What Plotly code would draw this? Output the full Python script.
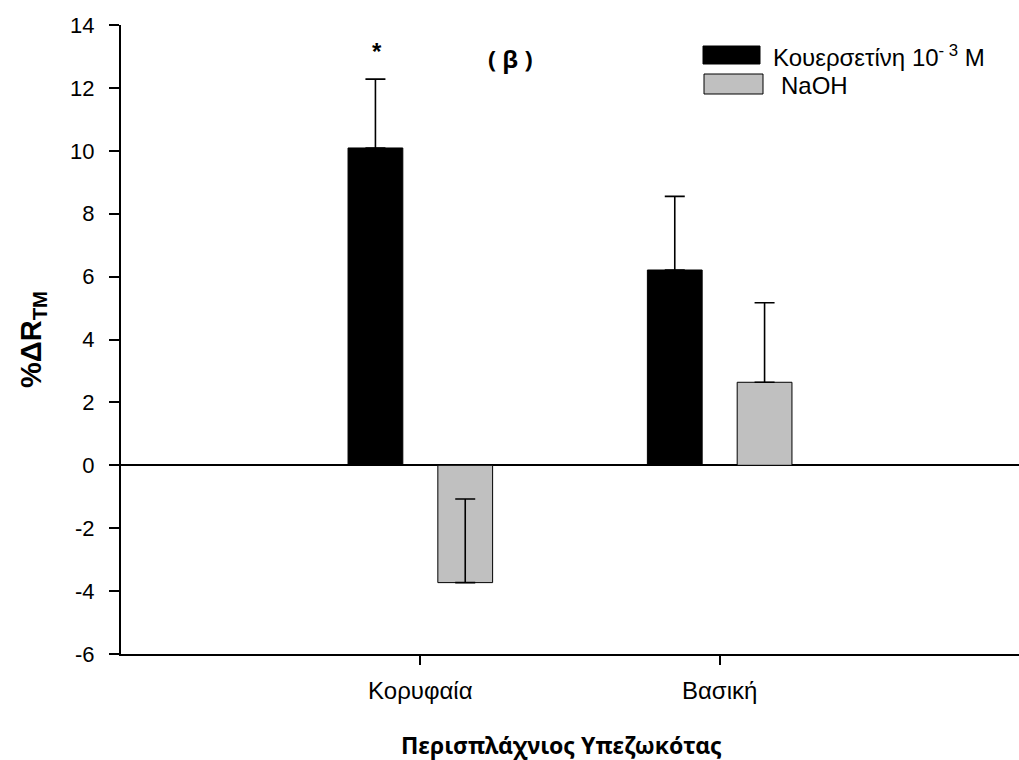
import plotly.graph_objects as go

# Data
categories = ["Κορυφαία", "Βασική"]
cat_pos = [1, 2]
quercetin = [10.09, 6.21]
quercetin_err = [2.19, 2.34]
naoh = [-3.73, 2.64]
naoh_err = [2.66, 2.53]

series_names = ["Κουερσετίνη 10<sup>- 3</sup> M", "NaOH"]
y_ticks = list(range(-6, 15, 2))
y_tick_text = [str(v) for v in y_ticks]

W, H = 1019, 760
L, R, T, B = 121, 0, 25, 106
PW, PH = W - L - R, H - T - B

def px_x(px):
    return (px - L) / PW

def px_y(py):
    return (H - B - py) / PH

bar_w = 0.183
sep = 0.15
err_style = dict(type="data", symmetric=False, color="black", thickness=1.6, width=10)

fig = go.Figure()
fig.add_trace(go.Bar(
    x=cat_pos, y=quercetin, width=bar_w, offset=-sep - bar_w / 2,
    marker=dict(color="black", line=dict(color="black", width=1)),
    error_y=dict(array=quercetin_err, arrayminus=[0, 0], **err_style),
    name="Κουερσετίνη 10-3 M", showlegend=False,
))
fig.add_trace(go.Bar(
    x=cat_pos, y=naoh, width=bar_w, offset=sep - bar_w / 2,
    marker=dict(color="#c0c0c0", line=dict(color="black", width=1)),
    error_y=dict(array=naoh_err, arrayminus=[0, 0], **err_style),
    name="NaOH", showlegend=False,
))

sans = "Liberation Sans, Arial, sans-serif"

fig.update_layout(
    width=W, height=H,
    margin=dict(l=L, r=R, t=T, b=B, pad=0),
    paper_bgcolor="white", plot_bgcolor="white",
    barmode="overlay",
    xaxis=dict(
        range=[0, 3], tickvals=cat_pos, ticktext=categories,
        showgrid=False, zeroline=False,
        showline=True, linecolor="black", linewidth=2,
        ticks="outside", ticklen=9, tickwidth=1.5, tickcolor="black",
        tickfont=dict(family=sans, size=24, color="black"),
        ticklabelstandoff=5,
    ),
    yaxis=dict(
        range=[-6, 14], tickvals=y_ticks, ticktext=y_tick_text,
        showgrid=False,
        zeroline=True, zerolinecolor="black", zerolinewidth=2,
        showline=True, linecolor="black", linewidth=2,
        ticks="outside", ticklen=10, tickwidth=1.5, tickcolor="black",
        tickfont=dict(family=sans, size=22, color="black"),
        ticklabelstandoff=10,
        title=dict(text="<b>%ΔR<sub>TM</sub></b>",
                   font=dict(family=sans, size=29, color="black"),
                   standoff=20),
    ),
)

# X axis title
fig.add_annotation(xref="paper", yref="paper", x=px_x(561), y=px_y(745),
                   text="<b>Περισπλάχνιος Υπεζωκότας</b>", showarrow=False,
                   xanchor="center", yanchor="middle",
                   font=dict(family="Noto Sans, Open Sans, sans-serif", size=23, color="black"))

# Legend drawn as swatches and labels
legend_items = [
    dict(color="black", x0=703, x1=760, y0=46, y1=64, tx=771, ty=56, text=series_names[0]),
    dict(color="#c0c0c0", x0=704, x1=763, y0=74, y1=94, tx=779, ty=86, text=series_names[1]),
]
for it in legend_items:
    fig.add_shape(type="rect", xref="paper", yref="paper",
                  x0=px_x(it["x0"]), x1=px_x(it["x1"]), y0=px_y(it["y1"]), y1=px_y(it["y0"]),
                  fillcolor=it["color"], line=dict(color="black", width=1))
    fig.add_annotation(xref="paper", yref="paper", x=px_x(it["tx"]), y=px_y(it["ty"]),
                       text=it["text"], showarrow=False, xanchor="left", yanchor="middle",
                       font=dict(family=sans, size=24, color="black"))

# Significance marker and panel label
fig.add_annotation(xref="paper", yref="paper", x=px_x(377), y=px_y(52), text="<b>*</b>",
                   showarrow=False, xanchor="center", yanchor="middle",
                   font=dict(family=sans, size=24, color="black"))
fig.add_annotation(xref="paper", yref="paper", x=px_x(510), y=px_y(58), text="<b>( β )</b>",
                   showarrow=False, xanchor="center", yanchor="middle",
                   font=dict(family="Open Sans, sans-serif", size=24, color="black"))

fig.write_html("out.html")
